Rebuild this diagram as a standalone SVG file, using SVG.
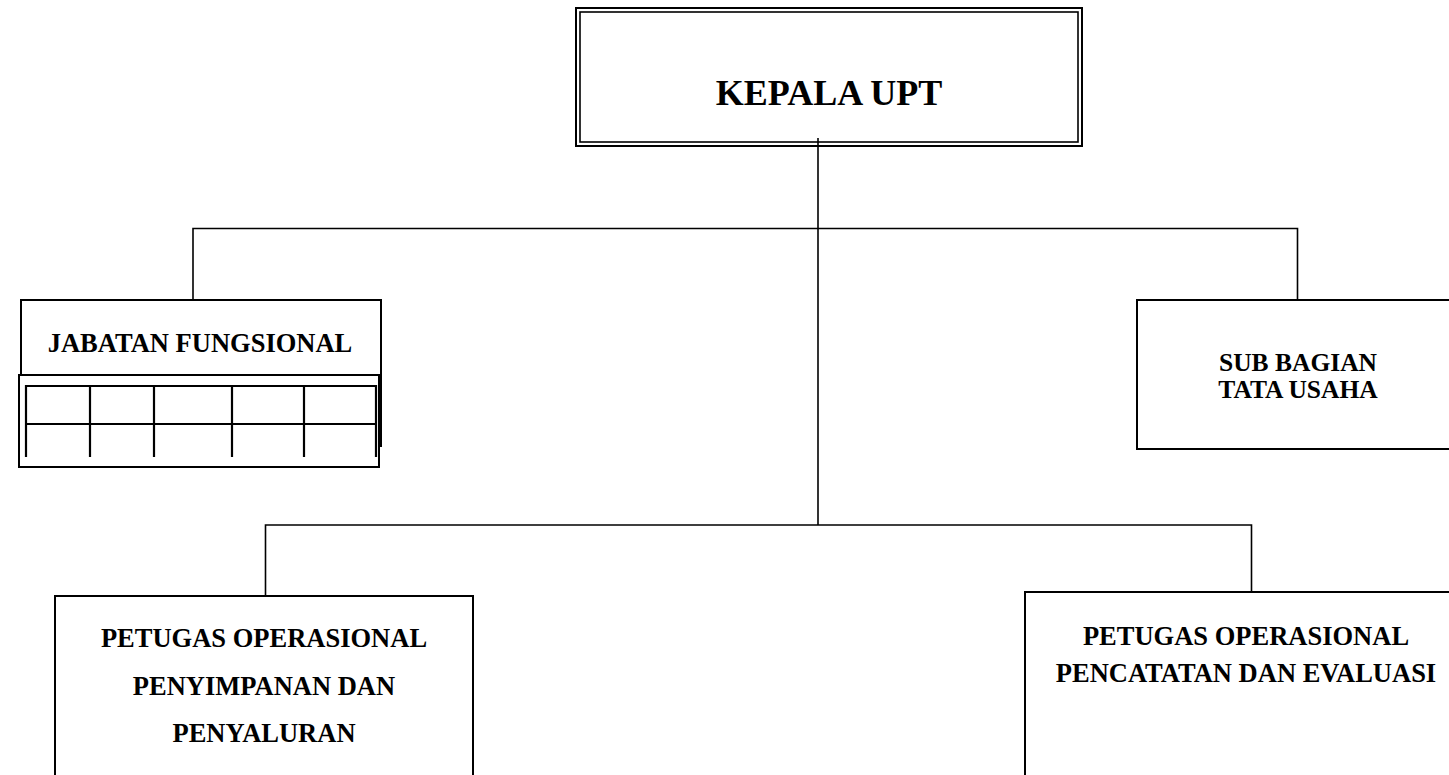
<svg xmlns="http://www.w3.org/2000/svg" width="1449" height="775" viewBox="0 0 1449 775">
<style>
.bx{fill:none;stroke:#000;stroke-width:2}
.ln{fill:none;stroke:#000;stroke-width:1.6}
.gr{fill:none;stroke:#000;stroke-width:2.2}
text{font-family:"Liberation Serif","Times New Roman",serif;font-weight:bold;fill:#000;text-anchor:middle}
.t{font-size:26.5px}
.s{font-size:25.5px}
</style>
<rect width="1449" height="775" fill="#fff"/>
<g id="connectors">
<path class="ln" d="M818,138 V525"/>
<path class="ln" d="M193,300 V228.5 H1297.5 V300"/>
<path class="ln" d="M265.5,596 V525 H1251.5 V592"/>
</g>
<g id="kepala">
<rect x="576" y="8" width="506" height="138" class="bx"/>
<rect x="580" y="12" width="498" height="130" class="ln" stroke-width="1.4"/>
<text x="829" y="105" style="font-size:36px">KEPALA UPT</text>
</g>
<g id="jabatan">
<path class="bx" d="M21,375 V300 H381 V447"/>
<rect x="19" y="375" width="360" height="92" class="bx"/>
<path class="gr" d="M26,457 V386 H376 V457 M26,424 H376 M90,386 V457 M154,386 V457 M232,386 V457 M304,386 V457"/>
<text x="200" y="352" class="t">JABATAN FUNGSIONAL</text>
</g>
<g id="subbagian">
<path class="bx" d="M1460,300 H1137 V449 H1460"/>
<text x="1298" y="371" class="s">SUB BAGIAN</text>
<text x="1298" y="397.5" class="s">TATA USAHA</text>
</g>
<g id="petugas-penyimpanan">
<path class="bx" d="M55,780 V596 H473 V780"/>
<text x="264" y="647" class="t">PETUGAS OPERASIONAL</text>
<text x="264" y="695" class="t">PENYIMPANAN DAN</text>
<text x="264" y="742" class="t">PENYALURAN</text>
</g>
<g id="petugas-pencatatan">
<path class="bx" d="M1025,780 V592 H1460"/>
<text x="1246" y="645" class="t">PETUGAS OPERASIONAL</text>
<text x="1246" y="682" class="t">PENCATATAN DAN EVALUASI</text>
</g>
</svg>
